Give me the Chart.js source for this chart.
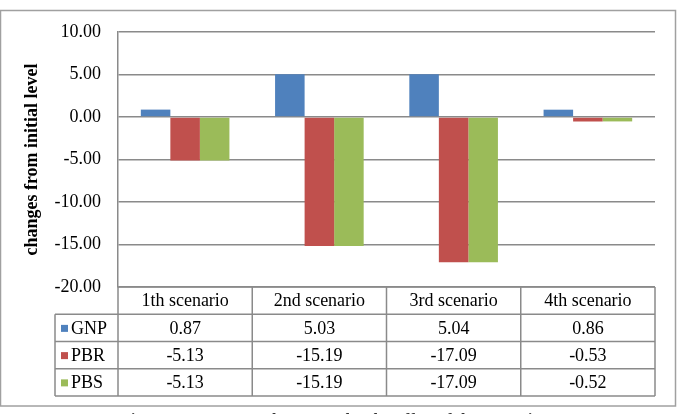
<!DOCTYPE html>
<html>
<head>
<meta charset="utf-8">
<script src="https://cdn.jsdelivr.net/npm/chart.js@4/dist/chart.umd.min.js"></script>
<style>
  html, body { margin: 0; padding: 0; background: #fff; }
  canvas { display: block; }
</style>
</head>
<body>
<canvas id="chart" width="680" height="414"></canvas>
<script>
// ===== data =====
const categories = ['1th scenario', '2nd scenario', '3rd scenario', '4th scenario'];
const seriesNames = ['GNP', 'PBR', 'PBS'];
const gnp = [0.87, 5.03, 5.04, 0.86];
const pbr = [-5.13, -15.19, -17.09, -0.53];
const pbs = [-5.13, -15.19, -17.09, -0.52];
const yTicks = [-20, -15, -10, -5, 0, 5, 10];
const colors = ['#4f81bd', '#c0504d', '#9bbb59'];
const caption = 'Figure 3. Long-Run Changes under the Effect of the Scenarios';

const serif = "'Liberation Serif', 'DejaVu Serif', serif";
const lineGray = '#8a8a8a';

// data table under the plot, aligned with the x scale columns
const dataTable = {
    id: 'dataTable',
    afterDraw(chart) {
        const ctx = chart.ctx;
        const x = chart.scales.x;
        const area = chart.chartArea;
        const colW = (area.right - area.left) / categories.length;
        const legendLeft = 55;
        const rowH = 27.25;
        const top = area.bottom;
        const rows = [gnp, pbr, pbs];

        ctx.save();
        ctx.strokeStyle = lineGray;
        ctx.lineWidth = 1.5;

        // horizontal lines
        const hline = (y, x0) => {
            ctx.beginPath();
            ctx.moveTo(x0, y);
            ctx.lineTo(area.right, y);
            ctx.stroke();
        };
        hline(top, area.left);
        for (let r = 1; r <= 4; r++) hline(top + r * rowH, legendLeft);

        // vertical lines
        const vline = (xp, y0) => {
            ctx.beginPath();
            ctx.moveTo(xp, y0);
            ctx.lineTo(xp, top + 4 * rowH);
            ctx.stroke();
        };
        vline(legendLeft, top + rowH);
        for (let c = 0; c <= categories.length; c++) vline(area.left + c * colW, top);

        // text
        ctx.fillStyle = '#000';
        ctx.font = '18px ' + serif;
        ctx.textBaseline = 'middle';
        ctx.textAlign = 'center';
        categories.forEach((cat, i) => {
            ctx.fillText(cat, x.getPixelForValue(i), top + rowH / 2 + 1);
        });
        rows.forEach((vals, r) => {
            const cy = top + (r + 1.5) * rowH + 1;
            vals.forEach((v, i) => {
                ctx.fillText(v.toFixed(2), x.getPixelForValue(i), cy);
            });
            // legend key + name
            ctx.fillStyle = colors[r];
            ctx.fillRect(legendLeft + 6, cy - 4, 7, 7);
            ctx.fillStyle = '#000';
            ctx.textAlign = 'left';
            ctx.fillText(seriesNames[r], legendLeft + 16, cy);
            ctx.textAlign = 'center';
        });

        // outer frame and (clipped) caption
        ctx.strokeStyle = '#a0a0a0';
        ctx.lineWidth = 1.5;
        ctx.strokeRect(0.5, 10.5, 675, 395.5);
        ctx.fillStyle = '#333';
        ctx.font = 'bold 16px ' + serif;
        ctx.textBaseline = 'top';
        ctx.fillText(caption, 334, 413);
        ctx.restore();
    }
};

new Chart(document.getElementById('chart'), {
    type: 'bar',
    data: {
        labels: categories,
        datasets: [
            { label: seriesNames[0], data: gnp, backgroundColor: colors[0] },
            { label: seriesNames[1], data: pbr, backgroundColor: colors[1] },
            { label: seriesNames[2], data: pbs, backgroundColor: colors[2] }
        ]
    },
    options: {
        responsive: false,
        animation: false,
        devicePixelRatio: 1,
        layout: { padding: { left: 0, right: 25, top: 32, bottom: 127 } },
        datasets: { bar: { categoryPercentage: 0.66, barPercentage: 1.0, borderWidth: 0 } },
        plugins: {
            legend: { display: false },
            tooltip: { enabled: false }
        },
        scales: {
            x: { display: false },
            y: {
                min: yTicks[0],
                max: yTicks[yTicks.length - 1],
                afterBuildTicks: (scale) => { scale.ticks = yTicks.map(v => ({ value: v })); },
                afterFit: (scale) => { scale.width = 118; },
                ticks: {
                    padding: 17,
                    color: '#000',
                    font: { family: serif, size: 18 },
                    callback: (v) => Number(v).toFixed(2)
                },
                grid: { color: lineGray, lineWidth: 1.5, drawTicks: false },
                border: { color: lineGray, width: 1.5 },
                title: {
                    display: true,
                    text: 'changes from initial level',
                    color: '#000',
                    font: { family: serif, size: 18, weight: 'bold' },
                    padding: { top: 22, bottom: 0 }
                }
            }
        }
    },
    plugins: [dataTable]
});
</script>
</body>
</html>
